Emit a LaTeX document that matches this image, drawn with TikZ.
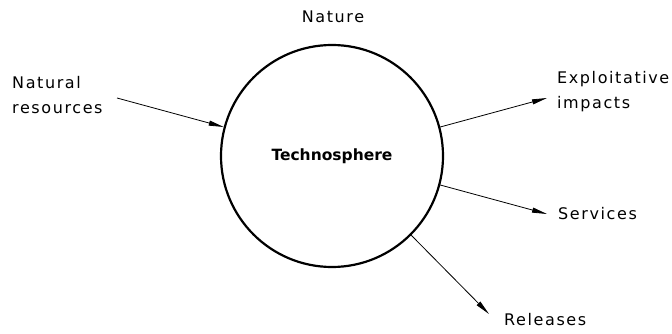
\documentclass[tikz,border=0pt]{standalone}
\usepackage{fontspec}
\setmainfont{DejaVu Sans}
\newfontfamily\lblfont[LetterSpace=10]{DejaVu Sans}
\usetikzlibrary{arrows.meta}
\begin{document}
\begin{tikzpicture}[x=1pt,y=-1pt,
  lbl/.style={font=\lblfont\fontsize{16}{25}\selectfont, inner sep=0pt, align=left},
  arr/.style={line width=0.8pt, -{Triangle[length=15pt,width=5pt]}}]
\useasboundingbox (0,0) rectangle (672,334);
\node[circle, draw, line width=2.2pt, minimum size=222pt, inner sep=0pt] (tech) at (332,156) {};
\node[font=\fontsize{15.5}{18}\selectfont\bfseries, inner sep=0pt] (techlbl) at (332,156) {Technosphere};
\node[lbl] (nature) at (333,17) {Nature};
\node[lbl, anchor=west] (nat) at (12,95) {Natural\\resources};
\node[lbl, anchor=west] (expl) at (557,92) {Exploitative\\impacts};
\node[lbl, anchor=west] (serv) at (558,214) {Services};
\node[lbl, anchor=west] (rel) at (504,320) {Releases};
\coordinate (natstart) at (117,98);
\coordinate (explend) at (547,98);
\coordinate (servend) at (547,214);
\coordinate (relend) at (489,314);
\draw[arr] (natstart) -- (tech.{165});
\draw[arr] (tech.{15.5}) -- (explend);
\draw[arr] (tech.{-15.5}) -- (servend);
\draw[arr] (tech.{-45}) -- (relend);
\end{tikzpicture}
\end{document}
